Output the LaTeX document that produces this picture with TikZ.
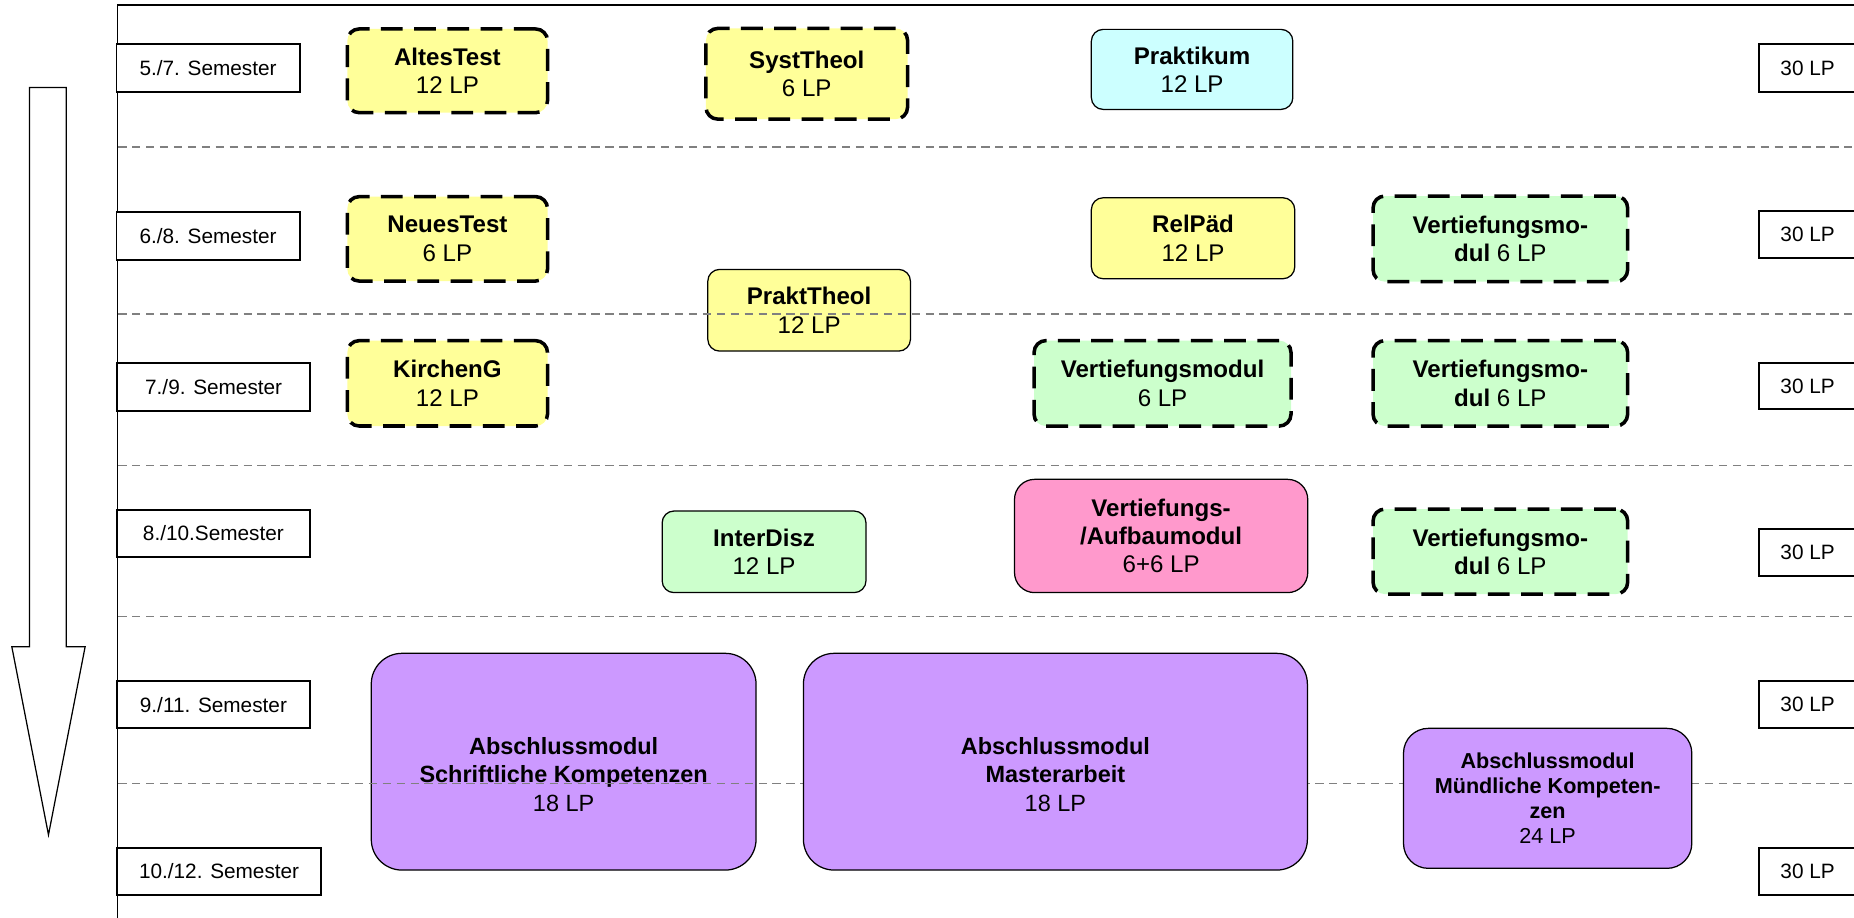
\documentclass[tikz,border=0pt]{standalone}
\usepackage{fontspec}
\setmainfont{Liberation Sans}
\definecolor{cyellow}{RGB}{255,255,153}
\definecolor{ccyan}{RGB}{204,255,255}
\definecolor{cgreen}{RGB}{204,255,204}
\definecolor{cpink}{RGB}{255,153,204}
\definecolor{cpurple}{RGB}{204,153,255}
\definecolor{sepgray}{RGB}{128,128,128}
\begin{document}
\begin{tikzpicture}[x=0.02cm,y=-0.02cm,
  sz/.style 2 args={minimum width=#1*0.02cm, minimum height=#2*0.02cm},
  frameline/.style={line width=0.8pt, draw=black},
  sepline/.style={draw=sepgray, line width=0.8pt, dash pattern=on 4pt off 2.7pt},
  sembox/.style={draw, line width=0.9pt, fill=white, inner sep=0pt, font=\fontsize{10}{12}\selectfont},
  modbox/.style={draw, line width=0.6pt, rounded corners=0.2cm, inner sep=0pt, align=center, font=\fontsize{11.6}{13.6}\selectfont},
  optbox/.style={modbox, line width=1.7pt, dash pattern=on 10.5pt off 5.5pt},
  bigbox/.style={modbox, rounded corners=0.52cm},
  txt/.style={inner sep=0pt, align=center, font=\fontsize{11.3}{13.6}\selectfont},
]
\useasboundingbox (0,0) rectangle (1568,776);
% time arrow
\draw[line width=0.6pt, fill=white] (25,74) -- (56,74) -- (56,547) -- (72,547) -- (41,706) -- (10,547) -- (25,547) -- cycle;
% frame
\draw[frameline] (1572,4.2) -- (99.5,4.2) -- (99.5,780);
% semester labels
\node[sembox, sz={155}{40}] (s1) at (176,57.5) {5./7. Semester};
\node[sembox, sz={155}{40}] (s2) at (176,199.6) {6./8. Semester};
\node[sembox, sz={163}{40}] (s3) at (180.7,327.3) {7./9. Semester};
\node[sembox, sz={163}{40}] (s4) at (180.5,451) {8./10.Semester};
\node[sembox, sz={163}{40}] (s5) at (180.5,596) {9./11. Semester};
\node[sembox, sz={172.7}{40}] (s6) at (185.3,737) {10./12. Semester};
% LP labels
\node[sembox, sz={82.5}{40}] (r1) at (1528.75,57.5) {30 LP};
\node[sembox, sz={82.5}{40}] (r2) at (1528.75,198.2) {30 LP};
\node[sembox, sz={82.5}{39}] (r3) at (1528.75,326.5) {30 LP};
\node[sembox, sz={82.5}{40}] (r4) at (1528.75,467.2) {30 LP};
\node[sembox, sz={82.5}{40}] (r5) at (1528.75,596) {30 LP};
\node[sembox, sz={82.5}{40}] (r6) at (1528.75,737) {30 LP};
% modules
\node[optbox, fill=cyellow, sz={169.3}{70.8}] (altes) at (378.4,59.9) {\textbf{AltesTest}\\12 LP};
\node[optbox, fill=cyellow, sz={170.5}{76.7}] (syst) at (682.3,62.4) {\textbf{SystTheol}\\6 LP};
\node[modbox, fill=ccyan, sz={170.4}{67.7}] (prakt) at (1008.2,58.7) {\textbf{Praktikum}\\12 LP};
\node[optbox, fill=cyellow, sz={169.3}{71.4}] (neues) at (378.4,202) {\textbf{NeuesTest}\\6 LP};
\node[modbox, fill=cyellow, sz={172}{68.5}] (relpaed) at (1009,201.5) {\textbf{RelPäd}\\12 LP};
\node[optbox, fill=cgreen, sz={215.3}{72.4}] (vta) at (1268.9,202) {\textbf{Vertiefungsmo-}\\\textbf{dul} 6 LP};
\node[modbox, fill=cyellow, sz={171.4}{69.1}] (prtheol) at (684.3,262.4) {\textbf{PraktTheol}\\12 LP};
\node[optbox, fill=cyellow, sz={169.3}{72.2}] (kirchen) at (378.4,324.2) {\textbf{KirchenG}\\12 LP};
\node[optbox, fill=cgreen, sz={217.3}{72.3}] (vtb) at (983.2,324.2) {\textbf{Vertiefungsmodul}\\6 LP};
\node[optbox, fill=cgreen, sz={215.3}{72.3}] (vtc) at (1268.9,324.2) {\textbf{Vertiefungsmo-}\\\textbf{dul} 6 LP};
\node[modbox, fill=cgreen, sz={172.4}{69}] (inter) at (646.2,466.7) {\textbf{InterDisz}\\12 LP};
\node[modbox, fill=cpink, rounded corners=0.34cm, sz={248}{95.8}] (aufbau) at (982,453.3) {\textbf{Vertiefungs-}\\\textbf{/Aufbaumodul}\\6+6 LP};
\node[optbox, fill=cgreen, sz={215.3}{71.9}] (vtd) at (1268.9,466.5) {\textbf{Vertiefungsmo-}\\\textbf{dul} 6 LP};
\node[bigbox, fill=cpurple, sz={325.4}{183.3}] (schrift) at (476.7,644.2) {};
\node[txt] (schrifttxt) at (476.7,655) {\textbf{Abschlussmodul}\\\textbf{Schriftliche Kompetenzen}\\18 LP};
% semester separators
\foreach \yy in {124.6,265.6,393.6,521.5,662.5}
  \draw[sepline] (100,\yy) -- (1572,\yy);
% final modules (cover the separator)
\node[bigbox, fill=cpurple, sz={426.2}{183.3}] (master) at (892.6,644.2) {};
\node[txt] (mastertxt) at (892.6,655) {\textbf{Abschlussmodul}\\\textbf{Masterarbeit}\\18 LP};
\node[modbox, fill=cpurple, rounded corners=0.42cm, sz={243.8}{118.4}, font=\fontsize{10.4}{12.1}\selectfont] (muend) at (1308.9,675.2) {\textbf{Abschlussmodul}\\\textbf{Mündliche Kompeten-}\\\textbf{zen}\\24 LP};
\end{tikzpicture}
\end{document}
